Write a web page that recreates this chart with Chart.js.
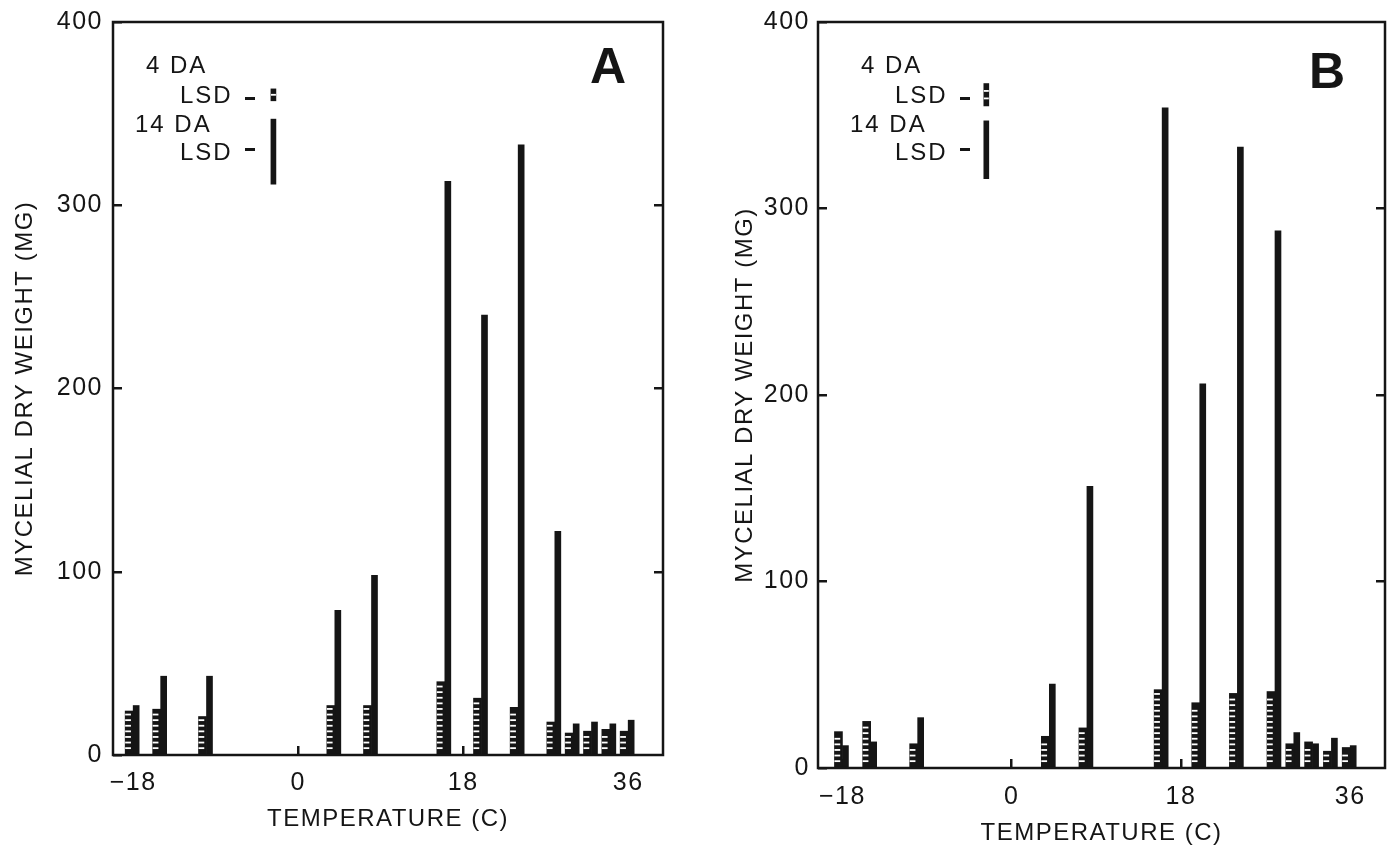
<!DOCTYPE html>
<html>
<head>
<meta charset="utf-8">
<script src="https://cdn.jsdelivr.net/npm/chart.js@4.4.1/dist/chart.umd.min.js"></script>
<style>
  html, body { margin: 0; padding: 0; background: #fff; }
  #wrap { position: relative; width: 1394px; height: 848px; }
  canvas { position: absolute; top: 0; }
  #chartA { left: 0; }
  #chartB { left: 700px; }
</style>
</head>
<body>
<div id="wrap">
  <canvas id="chartA" width="700" height="848"></canvas>
  <canvas id="chartB" width="694" height="848"></canvas>
</div>
<script>
// Incubation temperatures (C)
const temps = [-18, -15, -10, 4, 8, 16, 20, 24, 28, 30, 32, 34, 36];

// Panel A – mycelial dry weight (mg) after 4 and 14 days
const a4da = [24, 25, 21, 27, 27, 40, 31, 26, 18, 12, 13, 14, 13];
const a14da = [27, 43, 43, 79, 98, 313, 240, 333, 122, 17, 18, 17, 19];

// Panel B
const b4da = [19.5, 25, 13, 17, 21.5, 42, 35, 40, 41, 13, 14, 9, 11];
const b14da = [12, 14, 27, 45, 151, 354, 206, 333, 288, 19, 13, 16, 12];

// LSD bars in the key, [low, high] mg, drawn at this temperature
const lsdTemp = -2.7;
const aLsd4 = [357, 363.5];
const aLsd14 = [311.5, 347];
const bLsd4 = [355, 367];
const bLsd14 = [316, 347];

// Axis ticks
const xTicks = [-18, 0, 18, 36];
const xTickLabels = ['\u221218', '0', '18', '36'];
const yTicks = [0, 100, 200, 300, 400];
const yInnerTicks = [100, 200, 300];

const ink = '#151515';
Chart.defaults.font.family = '"Liberation Sans", Arial, sans-serif';
Chart.defaults.color = ink;

// white cuts across the 4 DA bars (the ladder look of the original)
const stripePlugin = {
  id: 'stripes',
  afterDatasetsDraw(chart) {
    const ctx = chart.ctx;
    chart.data.datasets.forEach((ds, i) => {
      if (!ds.stripeStep) return;
      const meta = chart.getDatasetMeta(i);
      ctx.save();
      ctx.fillStyle = '#fff';
      meta.data.forEach(bar => {
        const p = bar.getProps(['x', 'y', 'base', 'width'], true);
        const left = p.x - p.width / 2;
        for (let yy = p.base - ds.stripeStep; yy > p.y + 2.5; yy -= ds.stripeStep) {
          ctx.fillRect(left, yy - 0.9, p.width * ds.stripeFrac, 1.8);
        }
      });
      ctx.restore();
    });
  }
};

// box around the plot, key text and panel letter
const decorPlugin = {
  id: 'decor',
  beforeDraw(chart) {
    chart.ctx.letterSpacing = '1.5px';
  },
  afterDraw(chart, args, opts) {
    const ctx = chart.ctx;
    const a = chart.chartArea;
    ctx.save();
    ctx.strokeStyle = ink;
    ctx.lineWidth = 2.5;
    ctx.strokeRect(a.left, a.top, a.right - a.left, a.bottom - a.top);

    ctx.fillStyle = ink;
    ctx.letterSpacing = '2px';
    ctx.font = '24px "Liberation Sans", Arial, sans-serif';
    ctx.textBaseline = 'alphabetic';
    ctx.textAlign = 'left';
    opts.key.forEach(k => ctx.fillText(k[0], a.left + k[1] + opts.keyDx, a.top + k[2]));
    // the short dash after each LSD
    opts.dashes.forEach(d => ctx.fillRect(a.left + d[0] + opts.keyDx, a.top + d[1], 10, 3));

    ctx.letterSpacing = '0px';
    ctx.font = 'bold 50px "Liberation Sans", Arial, sans-serif';
    ctx.textAlign = 'center';
    ctx.fillText(opts.letter, opts.letterX, opts.letterY);
    ctx.restore();
  }
};

const keyLines = [['4 DA', 33, 51], ['LSD', 67, 81], ['14 DA', 22, 110], ['LSD', 67, 138]];
const keyDashes = [[132, 75], [132, 126]];

function makePanel(id, s4, s14, lsd4, lsd14, L) {
  const innerGrid = {
    drawOnChartArea: false, drawTicks: true, tickLength: -9, offset: false,
    color: ink, lineWidth: 2.5
  };
  return new Chart(document.getElementById(id), {
    type: 'bar',
    data: {
      datasets: [
        {
          label: '4 DA', data: temps.map((t, i) => ({ x: t, y: s4[i] })),
          backgroundColor: ink, barThickness: 8, stripeStep: 5.6, stripeFrac: 0.72
        },
        {
          label: '14 DA', data: temps.map((t, i) => ({ x: t, y: s14[i] })),
          backgroundColor: ink, barThickness: 6
        },
        {
          label: '4 DA LSD', data: [{ x: lsdTemp, y: lsd4 }], grouped: false,
          backgroundColor: ink, barThickness: 5, stripeStep: L.lsdStep, stripeFrac: 1
        },
        {
          label: '14 DA LSD', data: [{ x: lsdTemp, y: lsd14 }], grouped: false,
          backgroundColor: ink, barThickness: 5
        }
      ]
    },
    options: {
      responsive: false,
      animation: false,
      layout: { padding: { left: 0, top: 22, right: L.padRight, bottom: 0 } },
      scales: {
        x: {
          type: 'linear', min: L.xMin, max: L.xMax, offset: false,
          afterBuildTicks: s => { s.ticks = xTicks.map(v => ({ value: v })); },
          afterFit: s => { s.height = L.xHeight; s.paddingLeft = 0; s.paddingRight = 0; },
          ticks: {
            autoSkip: false, maxRotation: 0, padding: L.xTickPad,
            font: { size: 25 }, callback: (v, i) => xTickLabels[i]
          },
          grid: innerGrid,
          border: { display: false },
          title: {
            display: true, text: 'TEMPERATURE (C)', font: { size: 24 },
            padding: { top: 0, bottom: L.xTitlePad }
          }
        },
        y: {
          position: 'left', min: 0, max: 400,
          afterBuildTicks: s => { s.ticks = yTicks.map(v => ({ value: v })); },
          afterFit: s => { s.width = L.yWidth; s.paddingTop = 0; s.paddingBottom = 0; },
          ticks: { padding: L.yTickPad, font: { size: 25 } },
          grid: innerGrid,
          border: { display: false },
          title: {
            display: true, text: 'MYCELIAL DRY WEIGHT (MG)', font: { size: 24 },
            padding: { top: L.yTitlePad, bottom: 0 }
          }
        },
        y2: {
          position: 'right', min: 0, max: 400,
          afterBuildTicks: s => { s.ticks = yInnerTicks.map(v => ({ value: v })); },
          afterFit: s => { s.width = 0; s.paddingTop = 0; s.paddingBottom = 0; },
          ticks: { display: false },
          grid: innerGrid,
          border: { display: false }
        }
      },
      plugins: {
        legend: { display: false },
        tooltip: { enabled: false },
        decor: {
          key: keyLines, dashes: keyDashes, keyDx: L.keyDx,
          letter: L.letter, letterX: L.letterX, letterY: L.letterY
        }
      }
    },
    plugins: [stripePlugin, decorPlugin]
  });
}

window.onload = function() {
  makePanel('chartA', a4da, a14da, aLsd4, aLsd14, {
    xMin: -20.2, xMax: 39.8, yWidth: 113, xHeight: 93, padRight: 37,
    yTickPad: 19, xTickPad: 22, yTitlePad: 11, xTitlePad: 14,
    lsdStep: 6, keyDx: 0, letter: 'A', letterX: 608, letterY: 83
  });
  makePanel('chartB', b4da, b14da, bLsd4, bLsd14, {
    xMin: -20.6, xMax: 39.7, yWidth: 118, xHeight: 80, padRight: 9,
    yTickPad: 17, xTickPad: 23, yTitlePad: 31, xTitlePad: 0,
    lsdStep: 7.5, keyDx: 10, letter: 'B', letterX: 627, letterY: 88
  });
};
</script>
</body>
</html>
